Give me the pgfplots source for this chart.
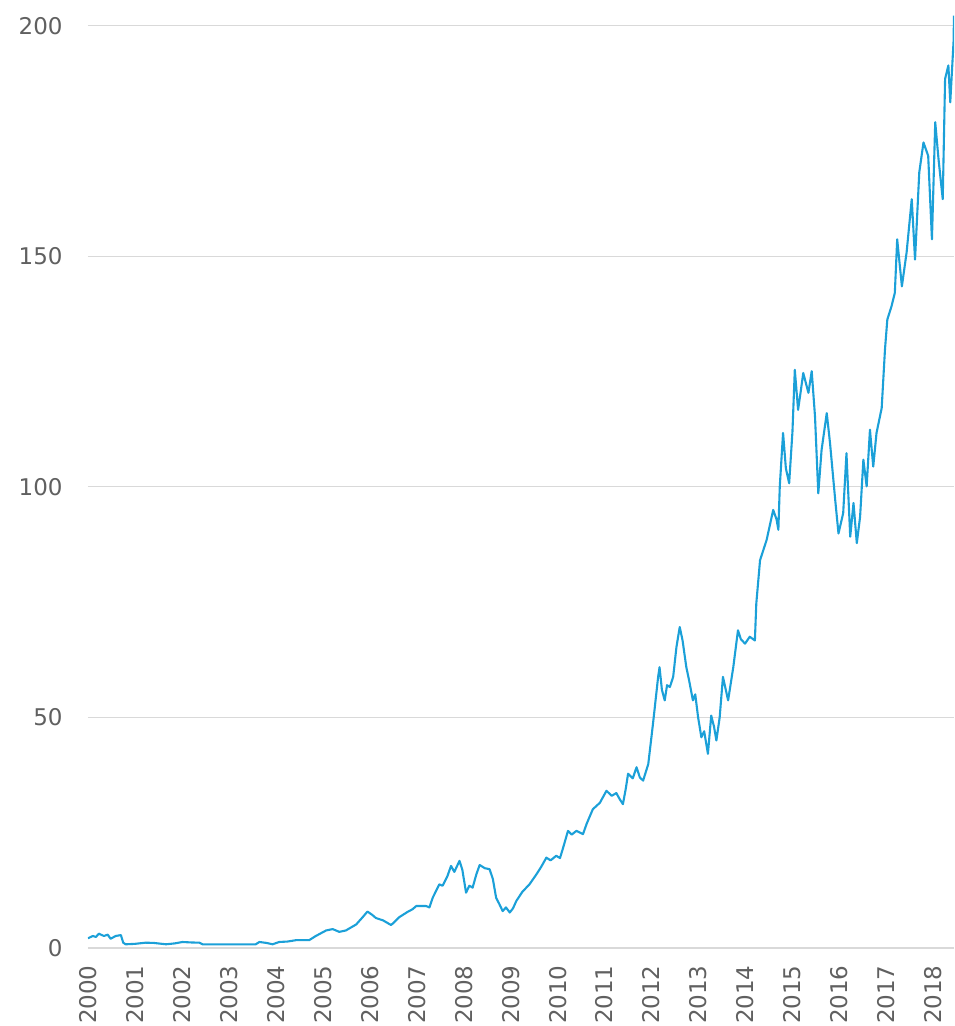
\documentclass[border=0pt]{standalone}
\usepackage{fontspec}
\setmainfont{DejaVu Sans}
\usepackage{pgfplots}
\usepackage{pgfplotstable}
\pgfplotsset{compat=1.18}
\definecolor{series}{RGB}{27,160,216}
\definecolor{gridgray}{RGB}{217,217,217}
\definecolor{lbl}{RGB}{96,96,96}

\pgfplotstableread{
year value
2000.00 2.1
2000.10 2.6
2000.17 2.4
2000.23 3.1
2000.34 2.6
2000.42 2.9
2000.48 2.0
2000.59 2.6
2000.70 2.8
2000.75 1.15
2000.80 0.8
2001.00 0.9
2001.23 1.15
2001.40 1.1
2001.66 0.8
2001.85 1.0
2002.01 1.3
2002.20 1.2
2002.37 1.15
2002.44 0.8
2003.00 0.8
2003.57 0.8
2003.65 1.3
2003.80 1.1
2003.93 0.8
2004.07 1.3
2004.25 1.4
2004.43 1.7
2004.71 1.7
2004.85 2.6
2005.07 3.8
2005.21 4.1
2005.35 3.5
2005.49 3.8
2005.71 5.1
2005.85 6.7
2005.95 7.9
2006.05 7.2
2006.13 6.5
2006.28 6.0
2006.45 5.0
2006.49 5.3
2006.63 6.7
2006.80 7.8
2006.91 8.4
2006.99 9.1
2007.20 9.1
2007.27 8.8
2007.34 10.9
2007.48 13.8
2007.55 13.5
2007.65 15.5
2007.73 17.8
2007.80 16.5
2007.91 18.9
2007.97 17.0
2008.05 12.0
2008.12 13.5
2008.19 13.1
2008.27 16.0
2008.34 18.0
2008.45 17.3
2008.55 17.1
2008.62 15.0
2008.69 10.9
2008.76 9.5
2008.83 8.0
2008.90 8.8
2008.98 7.7
2009.05 8.6
2009.12 10.2
2009.25 12.2
2009.40 13.8
2009.55 16.0
2009.65 17.6
2009.76 19.6
2009.85 19.0
2009.97 20.0
2010.05 19.5
2010.11 21.5
2010.22 25.4
2010.30 24.6
2010.40 25.4
2010.54 24.7
2010.62 27.0
2010.75 30.1
2010.90 31.5
2011.04 34.1
2011.15 33.0
2011.25 33.6
2011.32 32.3
2011.39 31.2
2011.45 34.5
2011.50 37.8
2011.60 36.8
2011.68 39.2
2011.75 37.0
2011.82 36.3
2011.93 39.9
2012.03 48.6
2012.14 58.8
2012.17 60.9
2012.22 56.0
2012.28 53.7
2012.33 57.0
2012.39 56.6
2012.46 58.8
2012.53 65.3
2012.60 69.6
2012.66 66.7
2012.74 60.9
2012.80 58.0
2012.88 53.7
2012.93 55.0
2012.99 50.1
2013.06 45.7
2013.12 47.0
2013.20 42.1
2013.27 50.4
2013.33 48.0
2013.38 45.0
2013.45 50.0
2013.52 58.8
2013.63 53.7
2013.74 60.9
2013.84 68.9
2013.90 67.0
2013.99 66.0
2014.09 67.5
2014.20 66.7
2014.23 74.7
2014.31 84.1
2014.45 88.5
2014.59 95.0
2014.66 93.0
2014.70 90.7
2014.73 100.1
2014.80 111.7
2014.86 104.0
2014.93 100.8
2015.00 112.0
2015.05 125.4
2015.12 116.7
2015.18 121.0
2015.23 124.7
2015.34 120.4
2015.41 125.1
2015.48 115.3
2015.55 98.6
2015.62 108.0
2015.73 116.0
2015.80 109.5
2015.91 97.2
2015.98 89.9
2016.08 94.3
2016.15 107.3
2016.23 89.2
2016.30 96.5
2016.37 87.8
2016.44 93.5
2016.51 105.9
2016.58 100.1
2016.65 112.4
2016.72 104.4
2016.79 111.7
2016.90 117.1
2016.97 129.8
2017.02 136.3
2017.11 139.2
2017.18 142.1
2017.23 153.7
2017.33 143.5
2017.43 150.8
2017.54 162.4
2017.61 149.3
2017.70 168.2
2017.79 174.7
2017.89 171.8
2017.97 153.7
2018.04 179.1
2018.11 171.1
2018.20 162.4
2018.25 188.5
2018.32 191.4
2018.36 183.4
2018.43 196.5
2018.44 202.2
}\pricedata

\begin{document}
\begin{tikzpicture}
\begin{axis}[
    at={(0pt,0pt)}, anchor=south west,
    scale only axis,
    width=433pt, height=476.3pt,
    xmin=2000, xmax=2018.44,
    ymin=-1, ymax=205.6,
    axis line style={draw=none},
    major tick length=0pt,
    ymajorgrids,
    grid style={gridgray, line width=0.6pt},
    ytick={0,50,100,150,200},
    xtick={2000,2001,...,2018},
    tick label style={font=\fontsize{11.5}{12}\selectfont, text=lbl,
        /pgf/number format/assume math mode=true},
    xticklabel style={rotate=90, anchor=east, inner sep=0pt,
        /pgf/number format/1000 sep={}},
    yticklabel style={anchor=east, inner sep=0pt},
    xticklabel shift=6.2pt,
    yticklabel shift=12.5pt,
]
\addplot[series, line width=1.05pt, line join=round, no markers] table[x=year, y=value] {\pricedata};
\end{axis}
\pgfresetboundingbox
\path (-44pt,-36.7pt) rectangle (433pt,476.3pt);
\end{tikzpicture}
\end{document}
